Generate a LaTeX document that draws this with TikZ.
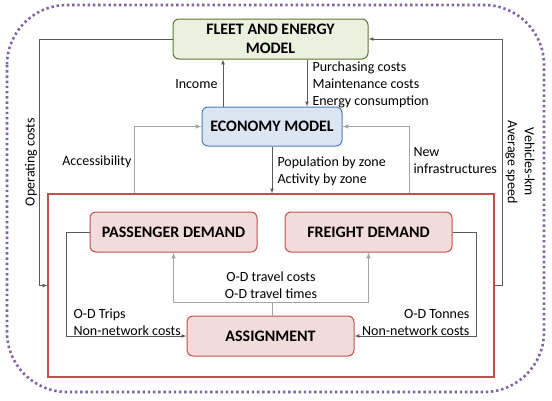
\documentclass[tikz,border=0pt]{standalone}
\usepackage{fontspec}
\setmainfont{Carlito}

\definecolor{fleetfill}{HTML}{EBF1DE}
\definecolor{fleetline}{HTML}{5E7530}
\definecolor{econfill}{HTML}{DCE6F2}
\definecolor{econline}{HTML}{4A7EBB}
\definecolor{demfill}{HTML}{F2DCDB}
\definecolor{demline}{HTML}{C0504D}
\definecolor{darkgray}{HTML}{595959}
\definecolor{palegray}{HTML}{A6A6A6}
\definecolor{frame}{HTML}{8064A2}

\begin{document}
\begin{tikzpicture}[x=1pt,y=-1pt,>=latex,
		every node/.style={font=\fontsize{14}{17}\selectfont},
		model/.style={draw, rounded corners=6pt, line width=1pt, align=center, inner sep=0pt,
			font=\fontsize{16}{19.5}\selectfont\bfseries},
		demand/.style={model, draw=demline, fill=demfill, minimum width=167pt, minimum height=40pt},
		link/.style={->, draw=darkgray, line width=0.7pt},
		pale/.style={->, draw=palegray, line width=1pt}]
		\useasboundingbox (0,0) rectangle (552,400);
		\draw [frame, line width=2.6pt, dash pattern=on 2.4pt off 2.8pt, rounded corners=60pt] (7,5) rectangle (544,392);
		\node [draw=demline, line width=1.2pt, minimum width=446pt, minimum height=183pt] (core) at (271,285.5) {};
		% models
		\node [model, draw=fleetline, fill=fleetfill, minimum width=195pt, minimum height=40pt] (fleet) at (270.5,39) {FLEET AND ENERGY\\MODEL};
		\node [model, draw=econline, fill=econfill, minimum width=140pt, minimum height=39pt] (econ) at (272,126.5) {ECONOMY MODEL};
		\node [demand] (pass) at (173.5,232) {PASSENGER DEMAND};
		\node [demand] (freight) at (368.5,232) {FREIGHT DEMAND};
		\node [demand] (assign) at (270.5,336) {ASSIGNMENT};
		% connectors
		\draw [link] (fleet.west) -| ([xshift=-8pt]core.west) -- (core.west);
		\draw [link] (core.east) -- ++(8,0) |- (fleet.east);
		\draw [link] (econ.north -| 223,0) -- (fleet.south -| 223,0);
		\draw [link] (fleet.south -| 307,0) -- (econ.north -| 307,0);
		\draw [pale] (core.north -| 134,0) |- (econ.west);
		\draw [pale] (core.north -| 409,0) |- (econ.east);
		\draw [link] (econ.south) -- (core.north -| econ.south);
		\draw [link] (pass.west) -- ++(-23,0) |- (assign.west);
		\draw [link] (freight.east) -- ++(24,0) |- (assign.east);
		\coordinate (split) at (272,302);
		\draw [pale] (assign.north -| split) -- (split) -| (pass.south);
		\draw [pale] (split) -| (freight.south);
		% labels
		\node [anchor=east] (income) at (221,84) {Income};
		\node [anchor=west, align=left] (costs) at (309,85) {Purchasing costs\\Maintenance costs\\Energy consumption};
		\node [anchor=east] (access) at (135,162) {Accessibility};
		\node [anchor=west, align=left] (popul) at (274,171.5) {Population by zone\\Activity by zone};
		\node [anchor=west, align=left] (infra) at (410,161) {New\\infrastructures};
		\node [rotate=90] (opcost) at (31,162) {Operating costs};
		\node [rotate=-90, align=center] (vkm) at (520,162) {Vehicles-km\\Average speed};
		\node [anchor=west, align=left] (trips) at (70,322.5) {O-D Trips\\Non-network costs};
		\node [anchor=east, align=right] (tonnes) at (473,322.5) {O-D Tonnes\\Non-network costs};
		\node [align=center] (travel) at (271,285.5) {O-D travel costs\\O-D travel times};
\end{tikzpicture}
\end{document}
